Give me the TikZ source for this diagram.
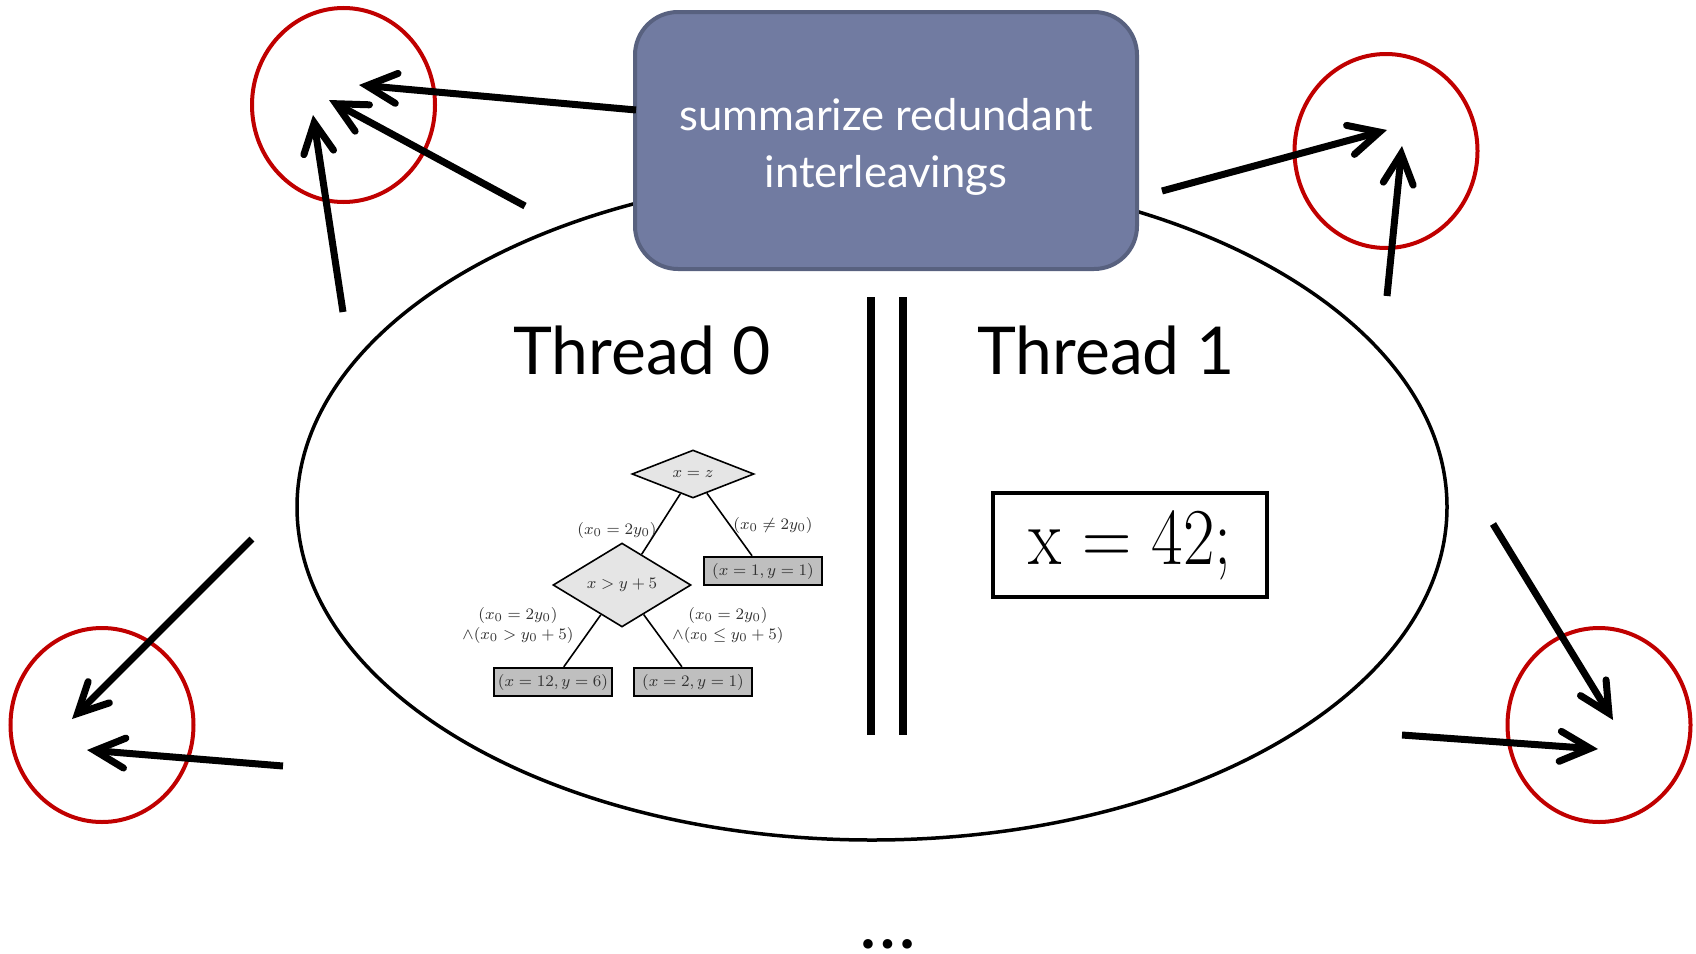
\documentclass[tikz,border=0pt]{standalone}
\usepackage{fontspec}
\newfontfamily\gill{Lato}
\usetikzlibrary{arrows.meta,shapes.geometric}
\definecolor{boxfill}{HTML}{717BA1}
\definecolor{boxdraw}{HTML}{58617F}
\definecolor{ringred}{HTML}{C00000}
\tikzset{
  ring/.style={draw=ringred, line width=2pt, ellipse, minimum width=91.5pt, minimum height=97pt, inner sep=0pt},
  bigarrow/.style={line width=3.5pt, -{Straight Barb[length=15pt,width=15pt,line cap=round,line join=miter]}},
  treefont/.style={font=\fontsize{8.2}{10}\selectfont, text=black!80},
  cond/.style={diamond, draw, fill=black!10, line width=0.8pt, inner sep=0pt, treefont},
  leaf/.style={rectangle, draw, fill=black!25, line width=1.2pt, minimum width=59pt, minimum height=14pt, inner sep=0pt, treefont},
  elabel/.style={align=center, inner sep=0pt, treefont},
  treeedge/.style={line width=0.8pt},
  threadlabel/.style={anchor=base, inner sep=0pt, font=\gill\fontsize{33}{38}\selectfont},
  summary/.style={rectangle, rounded corners=21.5pt, fill=boxfill, draw=boxdraw, line width=2pt,
     minimum width=251pt, minimum height=128.5pt},
  summarytext/.style={text=white, align=center, inner sep=0pt,
     font=\gill\fontsize{21.8}{28.5}\selectfont},
  codebox/.style={rectangle, draw, line width=2pt, minimum width=137pt, minimum height=52pt, inner sep=0pt,
     font=\fontsize{36}{40}\selectfont},
  bar/.style={line width=4.3pt},
}
\begin{document}
\begin{tikzpicture}[x=0.5pt,y=-0.5pt]
\useasboundingbox (0,0) rectangle (1696,953);
% big ellipse
\draw[line width=1.75pt] (872,507) ellipse [x radius=287.5pt, y radius=166.5pt];
% summary box
\node[summary] (sum) at (886,140.5) {};
\node[summarytext] (sumtext) at (886,147) {summarize redundant\\interleavings};
% thread labels
\node[threadlabel] (t0) at (642,374) {Thread 0};
\node[threadlabel] (t1) at (1106,374) {Thread 1};
% parallel bars
\coordinate (p1a) at (871,297); \coordinate (p1b) at (871,735);
\coordinate (p2a) at (903,297); \coordinate (p2b) at (903,735);
\draw[bar] (p1a) -- (p1b);
\draw[bar] (p2a) -- (p2b);
% code box
\node[codebox] (code) at (1130,545) {\scalebox{0.95}[1.12]{x = 42;}};
% tree
\node[cond, minimum width=61pt, minimum height=24pt] (d1) at (693,474) {$x = z$};
\node[cond, minimum width=69pt, minimum height=28pt] (d2) at (622,585) {$x > y + 5$};
\node[leaf] (b1) at (763,571) {$(x = 1, y = 1)$};
\node[leaf] (b2) at (553,682) {$(x = 12, y = 6)$};
\node[leaf] (b3) at (693,682) {$(x = 2, y = 1)$};
\draw[treeedge] (d1) -- (d2);
\draw[treeedge] (d1) -- (b1);
\draw[treeedge] (d2) -- (b2);
\draw[treeedge] (d2) -- (b3);
\node[elabel] (l1) at (617,530) {$(x_0 = 2y_0)$};
\node[elabel] (l2) at (773,525) {$(x_0 \neq 2y_0)$};
\node[elabel] (l3) at (518,625) {$(x_0 = 2y_0)$\\$\wedge(x_0 > y_0 + 5)$};
\node[elabel] (l4) at (728,625) {$(x_0 = 2y_0)$\\$\wedge(x_0 \leq y_0 + 5)$};
% red rings
\node[ring] (rtl) at (343.5,105) {};
\node[ring] (rtr) at (1386,151) {};
\node[ring] (rbl) at (102,725) {};
\node[ring] (rbr) at (1599,725) {};
% arrows
\coordinate (a1s) at (636,110); \coordinate (a1e) at (359,85);
\coordinate (a2s) at (525,206); \coordinate (a2e) at (329,100);
\coordinate (a3s) at (343,312); \coordinate (a3e) at (313,115);
\coordinate (b1s) at (1162,191); \coordinate (b1e) at (1387,130);
\coordinate (b2s) at (1387,296); \coordinate (b2e) at (1402,146);
\coordinate (c1s) at (252,539); \coordinate (c1e) at (72,719);
\coordinate (c2s) at (283,766); \coordinate (c2e) at (87,750);
\coordinate (d1s) at (1493,524); \coordinate (d1e) at (1613,720);
\coordinate (d2s) at (1402,735); \coordinate (d2e) at (1598,749);
\foreach \a in {a1,a2,a3,b1,b2,c1,c2,d1,d2}
  \draw[bigarrow] (\a s) -- (\a e);
% dots
\node[anchor=base, inner sep=0pt, font=\gill\fontsize{38}{40}\selectfont] (dots) at (888,948) {…};
\end{tikzpicture}
\end{document}
